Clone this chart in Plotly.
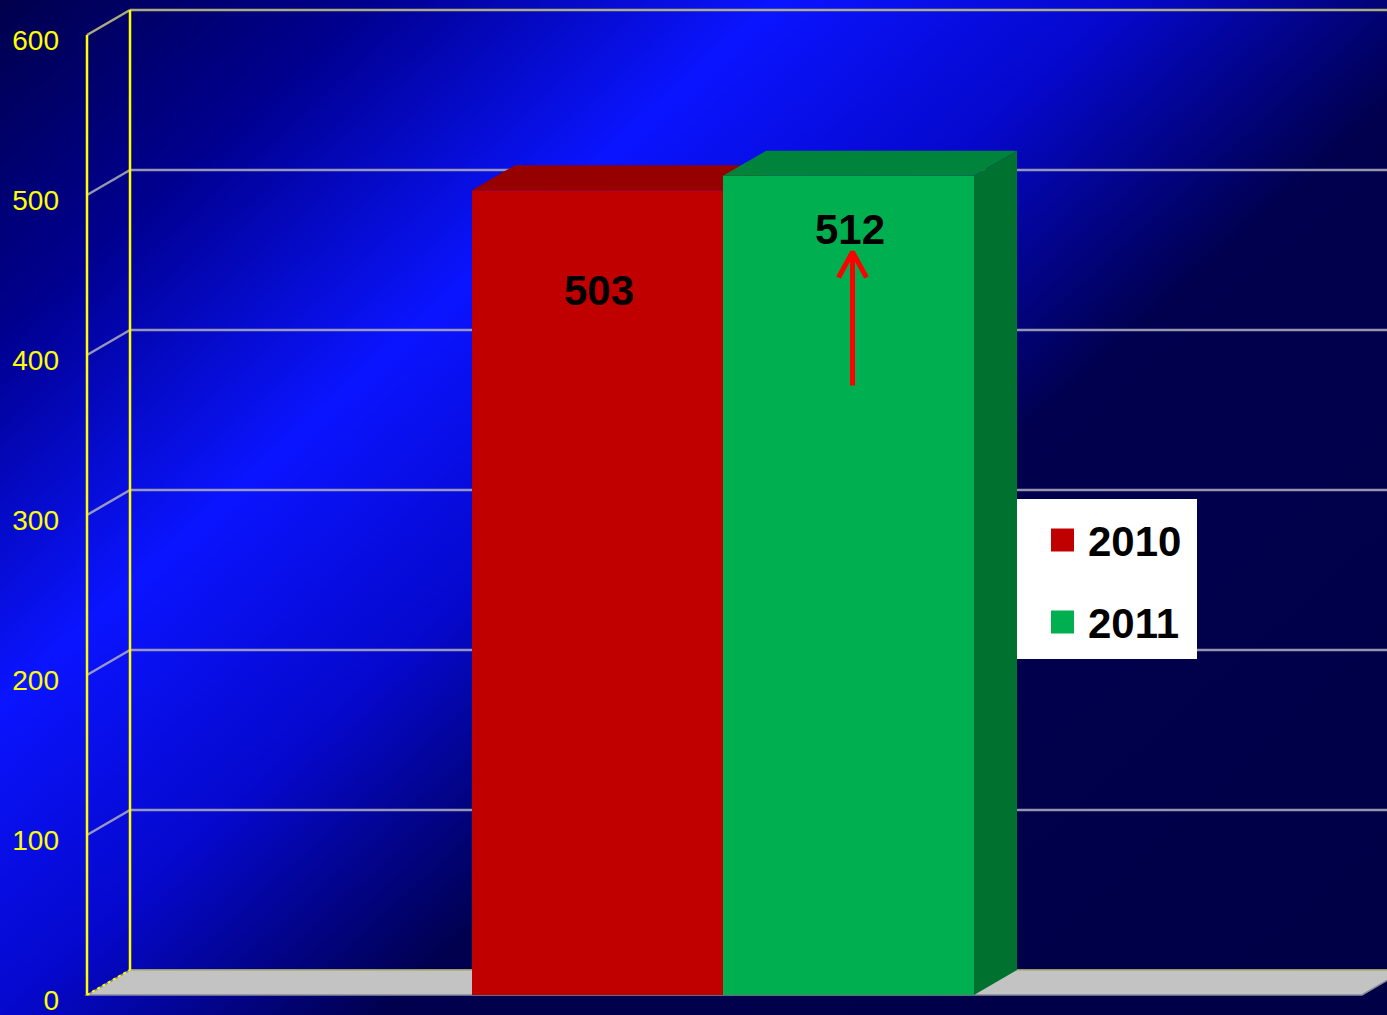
import base64
import plotly.graph_objects as go

# ---------------- data ----------------
series = ["2010", "2011"]
values = [503, 512]
front_colors = ["#c00000", "#00b050"]
top_colors = ["#960000", "#00843c"]
side_colors = ["#7a0000", "#00712f"]
y_ticks = [0, 100, 200, 300, 400, 500, 600]
y_tick_labels = ["0", "100", "200", "300", "400", "500", "600"]

# ---------------- geometry (pixel-like x units, value y units) ----------------
W, H = 1387, 1015
PX_PER_UNIT = 1.6
Y0_PX = 995          # pixel row of value 0 on the front plane
LEFT = 80            # left margin
X_FRONT = 87         # front vertical axis
DX = 43              # depth offset, x (px)
DY = 25 / PX_PER_UNIT  # depth offset, y (value units)
X_BACK = X_FRONT + DX
FLOOR_RIGHT = 1362
BAR_W = 251
GROUP_CENTER = 723
bar_centers = [GROUP_CENTER - BAR_W / 2, GROUP_CENTER + BAR_W / 2]

y_min = -(H - Y0_PX) / PX_PER_UNIT
y_max = Y0_PX / PX_PER_UNIT


def val(py):
    return (Y0_PX - py) / PX_PER_UNIT


FONT = "Liberation Sans Narrow, Arial Narrow, Liberation Sans, sans-serif"

# ---------------- background gradient ----------------
gx, gy = 1682 * 0.67, 1682 * 0.742
svg = f'''<svg xmlns="http://www.w3.org/2000/svg" width="{W}" height="{H}" viewBox="0 0 {W} {H}" preserveAspectRatio="none">
<defs><linearGradient id="g" gradientUnits="userSpaceOnUse" x1="0" y1="0" x2="{gx:.1f}" y2="{gy:.1f}">
<stop offset="0" stop-color="#00004c"/>
<stop offset="0.15" stop-color="#000090"/>
<stop offset="0.31" stop-color="#0a14ff"/>
<stop offset="0.45" stop-color="#0508cc"/>
<stop offset="0.6" stop-color="#00004e"/>
<stop offset="1" stop-color="#000046"/>
</linearGradient></defs>
<rect x="0" y="0" width="{W}" height="{H}" fill="url(#g)"/></svg>'''
bg_uri = "data:image/svg+xml;base64," + base64.b64encode(svg.encode()).decode()

fig = go.Figure()

axes = [("x", "y"), ("x2", "y2")]
for i, (name, v) in enumerate(zip(series, values)):
    xa, ya = axes[i]
    x0 = bar_centers[i] - BAR_W / 2
    x1 = bar_centers[i] + BAR_W / 2
    # front face
    fig.add_trace(go.Bar(
        x=[bar_centers[i]], y=[v], width=[BAR_W], name=name,
        marker=dict(color=front_colors[i], line=dict(width=0)),
        xaxis=xa, yaxis=ya, hoverinfo="skip", showlegend=False))
    # side face
    fig.add_trace(go.Scatter(
        x=[x1, x1 + DX, x1 + DX, x1, x1], y=[0, DY, v + DY, v, 0],
        fill="toself", fillcolor=side_colors[i], mode="lines",
        line=dict(width=0, color=side_colors[i]),
        xaxis=xa, yaxis=ya, hoverinfo="skip", showlegend=False))
    # top face
    fig.add_trace(go.Scatter(
        x=[x0, x1, x1 + DX, x0 + DX, x0], y=[v, v, v + DY, v + DY, v],
        fill="toself", fillcolor=top_colors[i], mode="lines",
        line=dict(width=0, color=top_colors[i]),
        xaxis=xa, yaxis=ya, hoverinfo="skip", showlegend=False))

# red up arrow on the 2011 bar
v2 = values[1]
ax_x = bar_centers[1] + 4
tip = v2 - 47.6
fig.add_trace(go.Scatter(
    x=[ax_x, ax_x, None, ax_x - 14, ax_x, ax_x + 14],
    y=[v2 - 131, tip, None, tip - 16, tip, tip - 16],
    mode="lines", line=dict(color="#ff0000", width=5),
    xaxis="x2", yaxis="y2", hoverinfo="skip", showlegend=False))

shapes = []
grid_col = "rgba(175,175,190,0.85)"
# floor
shapes.append(dict(type="path", xref="x", yref="y", layer="below",
                   path=f"M {X_FRONT},0 L {FLOOR_RIGHT},0 L {FLOOR_RIGHT + DX},{DY} L {X_BACK},{DY} Z",
                   fillcolor="#c3c3c3", line=dict(color="#8a8a9a", width=1.5)))
shapes.append(dict(type="line", xref="x", yref="y", layer="below",
                   x0=X_BACK, x1=W + 50, y0=DY, y1=DY,
                   line=dict(color="rgba(220,220,80,0.8)", width=1)))
# gridlines
for t in y_ticks[1:]:
    col = "rgba(190,190,130,0.9)" if t == y_ticks[-1] else grid_col
    shapes.append(dict(type="line", xref="x", yref="y", layer="below",
                       x0=X_FRONT, y0=t, x1=X_BACK, y1=t + DY,
                       line=dict(color=col, width=2.5)))
    shapes.append(dict(type="line", xref="x", yref="y", layer="below",
                       x0=X_BACK, y0=t + DY, x1=W + 50, y1=t + DY,
                       line=dict(color=col, width=2.5)))
# yellow axis frame
shapes.append(dict(type="line", xref="x", yref="y", layer="below",
                   x0=X_FRONT, y0=0, x1=X_BACK, y1=DY,
                   line=dict(color="#ffff00", width=2, dash="dot")))
shapes.append(dict(type="line", xref="x", yref="y", layer="below",
                   x0=X_FRONT, y0=0, x1=X_FRONT, y1=y_ticks[-1],
                   line=dict(color="#ffff00", width=2.5)))
shapes.append(dict(type="line", xref="x", yref="y", layer="below",
                   x0=X_BACK, y0=DY, x1=X_BACK, y1=y_ticks[-1] + DY,
                   line=dict(color="#ffff00", width=2.5)))

# manual legend
LEG_X0, LEG_X1, LEG_TOP, LEG_BOT = 1017, 1197, 499, 659
shapes.append(dict(type="rect", xref="x", yref="y", layer="above",
                   x0=LEG_X0, x1=LEG_X1, y0=val(LEG_BOT), y1=val(LEG_TOP),
                   fillcolor="#ffffff", line=dict(width=0)))
legend_rows = [540, 622]
annotations = []
for i, name in enumerate(series):
    cy = legend_rows[i]
    shapes.append(dict(type="rect", xref="x", yref="y", layer="above",
                       x0=1051, x1=1074, y0=val(cy + 11.5), y1=val(cy - 11.5),
                       fillcolor=front_colors[i], line=dict(width=0)))
    annotations.append(dict(x=1086, y=val(cy + 1), xref="x", yref="y", text=name,
                            showarrow=False, xanchor="left", yanchor="middle",
                            font=dict(family=FONT, size=42, color="#000000", weight="bold")))

# value labels
label_shift = [-100, -54]
for i, v in enumerate(values):
    annotations.append(dict(x=bar_centers[i] + 1, y=v, xref="x", yref="y", text=str(v),
                            showarrow=False, xanchor="center", yanchor="middle",
                            yshift=label_shift[i],
                            font=dict(family=FONT, size=42, color="#000000", weight="bold")))

fig.update_layout(
    width=W, height=H,
    margin=dict(l=LEFT, r=0, t=0, b=0, pad=0),
    paper_bgcolor="#00004e",
    plot_bgcolor="rgba(0,0,0,0)",
    barmode="overlay",
    showlegend=False,
    shapes=shapes,
    annotations=annotations,
    images=[dict(source=bg_uri, xref="paper", yref="paper",
                 x=-LEFT / (W - LEFT), y=1, sizex=W / (W - LEFT), sizey=1,
                 xanchor="left", yanchor="top", sizing="stretch", layer="below")],
    xaxis=dict(range=[LEFT, W], visible=False, fixedrange=True),
    xaxis2=dict(range=[LEFT, W], visible=False, overlaying="x", anchor="y2", fixedrange=True),
    yaxis=dict(range=[y_min, y_max], tickvals=y_ticks, ticktext=y_tick_labels,
               tickfont=dict(family=FONT, size=28, color="#ffff00"),
               showgrid=False, zeroline=False, showline=False, ticks="",
               ticklabelstandoff=20, ticklabelshift=5, ticklabeloverflow="allow",
               fixedrange=True),
    yaxis2=dict(range=[y_min, y_max], visible=False, overlaying="y", anchor="x2", fixedrange=True),
)

fig.write_html("out.html", config={"displayModeBar": False},
               post_script="document.body.style.margin='0px';document.body.style.overflow='hidden';")
